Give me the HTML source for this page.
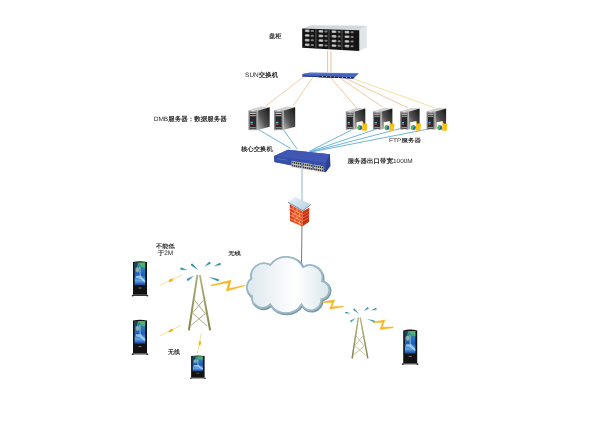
<!DOCTYPE html>
<html><head><meta charset="utf-8">
<style>
html,body{margin:0;padding:0;background:#fff;width:600px;height:424px;overflow:hidden}
svg{display:block}
text{font-family:"Liberation Sans",sans-serif;fill:#2a2a2a;text-rendering:geometricPrecision}
</style></head>
<body>
<svg width="600" height="424" viewBox="0 0 600 424">
<defs>
  <linearGradient id="sideG" x1="0" y1="1" x2="1" y2="0">
    <stop offset="0" stop-color="#bcbcbc"/>
    <stop offset="0.45" stop-color="#525252"/>
    <stop offset="1" stop-color="#141414"/>
  </linearGradient>
  <linearGradient id="frontG" x1="0" y1="0" x2="1" y2="0">
    <stop offset="0" stop-color="#808080"/>
    <stop offset="0.5" stop-color="#e0e0e0"/>
    <stop offset="1" stop-color="#909090"/>
  </linearGradient>
  <linearGradient id="cloudG" x1="0" y1="0" x2="1" y2="0">
    <stop offset="0" stop-color="#dde8ee"/>
    <stop offset="0.6" stop-color="#ffffff"/>
    <stop offset="1" stop-color="#d9e6ec"/>
  </linearGradient>
  <linearGradient id="scrG" x1="0" y1="0" x2="0" y2="1">
    <stop offset="0" stop-color="#3aa070"/>
    <stop offset="0.3" stop-color="#2a78b8"/>
    <stop offset="0.55" stop-color="#1f5cb8"/>
    <stop offset="0.8" stop-color="#5aa8e8"/>
    <stop offset="1" stop-color="#1a3c98"/>
  </linearGradient>
  <linearGradient id="brickL" x1="0" y1="0" x2="1" y2="0">
    <stop offset="0" stop-color="#d8341a"/>
    <stop offset="0.7" stop-color="#f05a22"/>
    <stop offset="1" stop-color="#e84a1c"/>
  </linearGradient>
  <linearGradient id="slabG" x1="0" y1="0" x2="1" y2="1">
    <stop offset="0" stop-color="#e8f2f8"/>
    <stop offset="1" stop-color="#b8d0e0"/>
  </linearGradient>
  <linearGradient id="legG" x1="0" y1="0" x2="1" y2="0">
    <stop offset="0" stop-color="#86864e"/>
    <stop offset="0.5" stop-color="#d0d0a4"/>
    <stop offset="1" stop-color="#86864e"/>
  </linearGradient>

  <g id="srv">
    <polygon points="0,0 9,0.5 21.2,-3 12.2,-3.8" fill="#d2d2d2"/>
    <polygon points="9,0.5 21.2,-3 21.2,16.5 9,19.8" fill="url(#sideG)"/>
    <rect x="8.6" y="0.5" width="1" height="19.3" fill="#c8c8c8"/>
    <rect x="0" y="0" width="9" height="20" rx="1" fill="url(#frontG)"/>
    <rect x="1.3" y="1.5" width="6.4" height="17.5" rx="0.8" fill="#2a2a2a"/>
    <rect x="1.6" y="2.4" width="5.8" height="1.4" fill="#c8c8c8"/>
    <rect x="1.6" y="4.8" width="5.8" height="1.2" fill="#a0a0a0"/>
    <rect x="2" y="11.6" width="2.4" height="1.6" fill="#5ab8e0"/>
    <rect x="2" y="13.8" width="2.4" height="1" fill="#a04a50"/>
    <rect x="1.6" y="17" width="5.8" height="1.1" fill="#9a9a9a"/>
  </g>

  <g id="fld">
    <path d="M3.2,0.8 L6.4,0.4 L7.4,2.9 L11.1,3.2 L10.4,9.9 L5.8,10 Z" fill="#f5bb10"/>
    <path d="M0.4,1.6 L6.3,1.0 L6.4,9.6 L0.5,9.6 Z" fill="#fbfbf4"/>
    <circle cx="3.7" cy="7.1" r="2.4" fill="#1f64c0"/>
    <path d="M1.3,7.1 A2.4,2.4 0 0 1 3.7,4.7 L4.2,6.3 L3.0,9.4 A2.4,2.4 0 0 1 1.3,7.1 Z" fill="#52b848"/>
    <path d="M6.2,5.6 L11,4.4 L10.4,9.9 L5.8,10 Z" fill="#f8c418"/>
  </g>

  <g id="kiosk">
    <path d="M0,1.2 Q7,-0.4 14,1.2 L14,34 L0,34 Z" fill="#121212"/>
    <rect x="-0.8" y="34" width="15.6" height="1.2" fill="#3a3a3a"/>
    <rect x="-1.2" y="34.4" width="1.6" height="1.2" fill="#222"/>
    <rect x="13.6" y="34.4" width="1.6" height="1.2" fill="#222"/>
    <rect x="1.6" y="1.8" width="10.6" height="22.6" fill="url(#scrG)"/>
    <path d="M1.6,1.8 L5,1.8 L4,6 L1.6,8 Z" fill="#1a3050" opacity="0.8"/>
    <path d="M6,1.8 L12.2,1.8 L12.2,7 L8,6 Z" fill="#5ab870" opacity="0.75"/>
    <ellipse cx="4.5" cy="9" rx="1.6" ry="2.6" fill="#e8e090" opacity="0.55"/>
    <path d="M6,6 L7.5,6 L8,16 L6.5,16 Z" fill="#cfe8ff" opacity="0.45"/>
    <path d="M3,15 L8,15 L12.2,20 L12.2,22 L7,18 L3,17 Z" fill="#d8eeff" opacity="0.6"/>
    <rect x="5.4" y="26.7" width="3.2" height="1" fill="#777"/>
  </g>

  <g id="tower">
    <path d="M-1.2,0 L-9.7,55.3 M1.2,0 L11.5,55.3" stroke="url(#legG)" stroke-width="2" fill="none"/>
    <path d="M-1.2,0 L-9.7,55.3 M1.2,0 L11.5,55.3" stroke="#7e7e48" stroke-width="0.9" fill="none" opacity="0.45"/>
    <g stroke="#a4a474" stroke-width="0.9" fill="none">
      <path d="M-4.3,25 L6.2,38 M5,25 L-6.2,38 M-6.2,38 L8.5,51 M7.4,38 L-8.2,51"/>
    </g>
  </g>

  <g id="sig">
    <path d="M-10.80,-4.30 L-16.50,-6.48 C-17.80,-6.72 -18.20,-4.56 -16.90,-4.32 Z" fill="#dde6e8"/>
    <path d="M0.20,-3.90 L-5.38,-10.23 C-6.37,-11.10 -7.82,-9.44 -6.82,-8.57 Z" fill="#dde6e8"/>
    <path d="M6.40,-7.60 L12.13,-10.30 C13.21,-11.06 11.94,-12.86 10.87,-12.10 Z" fill="#dde6e8"/>
    <path d="M15.60,-7.90 L22.17,-9.06 C23.41,-9.50 22.68,-11.58 21.43,-11.14 Z" fill="#dde6e8"/>
    <path d="M-3.90,1.60 L-10.70,4.68 C-11.81,5.39 -10.61,7.24 -9.50,6.52 Z" fill="#dde6e8"/>
    <path d="M10.40,2.70 L19.64,7.04 C20.89,7.47 21.61,5.39 20.36,4.96 Z" fill="#dde6e8"/>
    <path d="M-11.40,-5.30 L-17.11,-7.43 C-18.35,-7.66 -18.73,-5.60 -17.49,-5.37 Z" fill="#3494a4"/>
    <path d="M-0.40,-4.90 L-6.01,-11.19 C-6.96,-12.02 -8.34,-10.44 -7.39,-9.61 Z" fill="#3494a4"/>
    <path d="M5.80,-8.60 L11.51,-11.34 C12.53,-12.07 11.32,-13.78 10.29,-13.06 Z" fill="#3494a4"/>
    <path d="M15.00,-8.90 L21.55,-10.11 C22.74,-10.53 22.04,-12.51 20.85,-12.09 Z" fill="#3494a4"/>
    <path d="M-4.50,0.60 L-11.27,3.72 C-12.33,4.40 -11.19,6.17 -10.13,5.48 Z" fill="#3494a4"/>
    <path d="M9.80,1.70 L19.06,5.99 C20.25,6.40 20.93,4.42 19.74,4.01 Z" fill="#3494a4"/>
  </g>
</defs>

<!-- LINES -->
<g fill="none" stroke-width="0.8">
  <path d="M327.6,51 L327.6,72 M331,51 L331,72" stroke="#eeb078"/>
  <path d="M303.7,76.7 L265.7,106" stroke="#f0c090"/>
  <path d="M313,77.3 L293,106" stroke="#f0c090"/>
  <path d="M331,78 L356.5,108" stroke="#f0b888"/>
  <path d="M340,78 L382.5,107" stroke="#f0b888"/>
  <path d="M345,78 L408,108" stroke="#f0b888"/>
  <path d="M354,79 L435,108" stroke="#f0d888"/>
</g>
<g fill="none" stroke="#5eaed6" stroke-width="0.9">
  <path d="M257.5,129 L290.6,148.5"/>
  <path d="M283,129 L297,149"/>
  <path d="M309,151.5 L351,130.3"/>
  <path d="M309.5,151.7 L376.7,129"/>
  <path d="M310,152 L401.5,128.3"/>
  <path d="M311,152 L428.5,129"/>
</g>
<path d="M302,168 L302,203" stroke="#a8c8dc" stroke-width="1.3" fill="none"/>
<path d="M302,225 L301.5,263" stroke="#6a6a6a" stroke-width="0.9" fill="none"/>

<!-- STORAGE -->
<g>
  <polygon points="302.2,28.5 359,30.3 366.8,25.8 311,25.3" fill="#d0d8de"/>
  <polygon points="359,30.3 366.8,25.8 366.8,47.2 359,51" fill="#dfe6ea"/>
  <polygon points="359,30.3 359.8,29.8 359.8,50.5 359,51" fill="#9aa4aa"/>
  <polygon points="302.2,28.5 359,30.3 359,51 302.2,47.7" fill="#141414"/>
  <g transform="matrix(1,0.0317,0,1.0,302.2,28.5)">
    <rect x="2.6" y="0.90" width="4.8" height="2.6" rx="1" fill="#a0a0a0"/>
    <rect x="3.4" y="1.50" width="3.2" height="1.2" rx="0.5" fill="#d0d0d0"/>
    <rect x="8.6" y="1.20" width="3" height="2" rx="0.7" fill="#808080"/>
    <rect x="2.6" y="5.55" width="4.8" height="2.6" rx="1" fill="#a0a0a0"/>
    <rect x="3.4" y="6.15" width="3.2" height="1.2" rx="0.5" fill="#d0d0d0"/>
    <rect x="8.6" y="5.85" width="3" height="2" rx="0.7" fill="#808080"/>
    <rect x="2.6" y="10.20" width="4.8" height="2.6" rx="1" fill="#a0a0a0"/>
    <rect x="3.4" y="10.80" width="3.2" height="1.2" rx="0.5" fill="#d0d0d0"/>
    <rect x="8.6" y="10.50" width="3" height="2" rx="0.7" fill="#808080"/>
    <rect x="2.6" y="14.85" width="4.8" height="2.6" rx="1" fill="#a0a0a0"/>
    <rect x="3.4" y="15.45" width="3.2" height="1.2" rx="0.5" fill="#d0d0d0"/>
    <rect x="8.6" y="15.15" width="3" height="2" rx="0.7" fill="#808080"/>
    <rect x="16.3" y="0.90" width="4.8" height="2.6" rx="1" fill="#a0a0a0"/>
    <rect x="17.1" y="1.50" width="3.2" height="1.2" rx="0.5" fill="#d0d0d0"/>
    <rect x="22.3" y="1.20" width="3" height="2" rx="0.7" fill="#808080"/>
    <rect x="16.3" y="5.55" width="4.8" height="2.6" rx="1" fill="#a0a0a0"/>
    <rect x="17.1" y="6.15" width="3.2" height="1.2" rx="0.5" fill="#d0d0d0"/>
    <rect x="22.3" y="5.85" width="3" height="2" rx="0.7" fill="#808080"/>
    <rect x="16.3" y="10.20" width="4.8" height="2.6" rx="1" fill="#a0a0a0"/>
    <rect x="17.1" y="10.80" width="3.2" height="1.2" rx="0.5" fill="#d0d0d0"/>
    <rect x="22.3" y="10.50" width="3" height="2" rx="0.7" fill="#808080"/>
    <rect x="16.3" y="14.85" width="4.8" height="2.6" rx="1" fill="#a0a0a0"/>
    <rect x="17.1" y="15.45" width="3.2" height="1.2" rx="0.5" fill="#d0d0d0"/>
    <rect x="22.3" y="15.15" width="3" height="2" rx="0.7" fill="#808080"/>
    <rect x="13.1" y="0.3" width="1.2" height="19.4" fill="#4a4a4a"/>
    <rect x="29.4" y="0.90" width="4.8" height="2.6" rx="1" fill="#a0a0a0"/>
    <rect x="30.2" y="1.50" width="3.2" height="1.2" rx="0.5" fill="#d0d0d0"/>
    <rect x="35.4" y="1.20" width="3" height="2" rx="0.7" fill="#808080"/>
    <rect x="29.4" y="5.55" width="4.8" height="2.6" rx="1" fill="#a0a0a0"/>
    <rect x="30.2" y="6.15" width="3.2" height="1.2" rx="0.5" fill="#d0d0d0"/>
    <rect x="35.4" y="5.85" width="3" height="2" rx="0.7" fill="#808080"/>
    <rect x="29.4" y="10.20" width="4.8" height="2.6" rx="1" fill="#a0a0a0"/>
    <rect x="30.2" y="10.80" width="3.2" height="1.2" rx="0.5" fill="#d0d0d0"/>
    <rect x="35.4" y="10.50" width="3" height="2" rx="0.7" fill="#808080"/>
    <rect x="29.4" y="14.85" width="4.8" height="2.6" rx="1" fill="#a0a0a0"/>
    <rect x="30.2" y="15.45" width="3.2" height="1.2" rx="0.5" fill="#d0d0d0"/>
    <rect x="35.4" y="15.15" width="3" height="2" rx="0.7" fill="#808080"/>
    <rect x="26.2" y="0.3" width="1.2" height="19.4" fill="#4a4a4a"/>
    <rect x="42.4" y="0.90" width="4.8" height="2.6" rx="1" fill="#a0a0a0"/>
    <rect x="43.2" y="1.50" width="3.2" height="1.2" rx="0.5" fill="#d0d0d0"/>
    <rect x="48.4" y="1.20" width="3" height="2" rx="0.7" fill="#808080"/>
    <rect x="42.4" y="5.55" width="4.8" height="2.6" rx="1" fill="#a0a0a0"/>
    <rect x="43.2" y="6.15" width="3.2" height="1.2" rx="0.5" fill="#d0d0d0"/>
    <rect x="48.4" y="5.85" width="3" height="2" rx="0.7" fill="#808080"/>
    <rect x="42.4" y="10.20" width="4.8" height="2.6" rx="1" fill="#a0a0a0"/>
    <rect x="43.2" y="10.80" width="3.2" height="1.2" rx="0.5" fill="#d0d0d0"/>
    <rect x="48.4" y="10.50" width="3" height="2" rx="0.7" fill="#808080"/>
    <rect x="42.4" y="14.85" width="4.8" height="2.6" rx="1" fill="#a0a0a0"/>
    <rect x="43.2" y="15.45" width="3.2" height="1.2" rx="0.5" fill="#d0d0d0"/>
    <rect x="48.4" y="15.15" width="3" height="2" rx="0.7" fill="#808080"/>
    <rect x="39.2" y="0.3" width="1.2" height="19.4" fill="#4a4a4a"/>
  </g>
</g>

<!-- SUN SWITCH -->
<g>
  <polygon points="302.3,74 310,72.6 358.8,73.3 353.5,78.4 302.3,76.5" fill="#4462c0"/>
  <path d="M304,73.6 L358,73.4" stroke="#6a86d8" stroke-width="0.6"/>
  <polygon points="302.3,75.6 353.8,77.3 353.5,78.4 302.3,76.6" fill="#24348a"/>
  <polygon points="319,76 353.5,77.4 353.3,78.4 319,77.3" fill="#2a2a30"/>
  <g fill="#e8e8e8">
    <rect x="322" y="76.2" width="1" height="0.7"/><rect x="326" y="76.4" width="1" height="0.7"/><rect x="330" y="76.5" width="1" height="0.7"/>
    <rect x="334" y="76.6" width="1" height="0.7"/><rect x="338" y="76.8" width="1" height="0.7"/><rect x="342" y="76.9" width="1" height="0.7"/>
    <rect x="346" y="77.1" width="1" height="0.7"/><rect x="350" y="77.2" width="1" height="0.7"/>
  </g>
</g>

<!-- SERVERS -->
<use href="#srv" x="248.5" y="110.2"/>
<use href="#srv" x="274" y="110.2"/>
<g transform="translate(345.8,111.3) scale(0.92)"><use href="#srv"/></g>
<g transform="translate(372.9,111.3) scale(0.92)"><use href="#srv"/></g>
<g transform="translate(400.1,111.3) scale(0.92)"><use href="#srv"/></g>
<g transform="translate(426.6,111.3) scale(0.92)"><use href="#srv"/></g>
<use href="#fld" x="356.2" y="120.6"/>
<use href="#fld" x="383.3" y="120.6"/>
<use href="#fld" x="409.8" y="120.6"/>
<use href="#fld" x="436.2" y="120.6"/>

<!-- CORE SWITCH -->
<g>
  <polygon points="287.9,149.7 329.9,154.3 330.3,166 325.7,172.2 274.4,162.1 274.1,155.9" fill="#3550aa"/>
  <polygon points="287.9,149.7 329.9,154.3 326,163 274.1,155.9" fill="#4058b4"/>
  <polygon points="274.1,155.9 326,163 325.7,172.2 274.4,162.1" fill="#3550aa"/>
  <polygon points="326,163 329.9,154.3 330.3,166 325.7,172.2" fill="#2a3f90"/>
  <g transform="matrix(1,0.17,0,1.12,274.2,156)">
    <rect x="17.4" y="1.6" width="9.8" height="5.6" fill="#cfcfc8"/>
    <rect x="17.9" y="2.2" width="1.3" height="1.6" fill="#333"/>
    <rect x="17.9" y="4.9" width="1.3" height="1.6" fill="#333"/>
    <rect x="19.8" y="2.2" width="1.3" height="1.6" fill="#333"/>
    <rect x="19.8" y="4.9" width="1.3" height="1.6" fill="#333"/>
    <rect x="21.7" y="2.2" width="1.3" height="1.6" fill="#333"/>
    <rect x="21.7" y="4.9" width="1.3" height="1.6" fill="#333"/>
    <rect x="23.6" y="2.2" width="1.3" height="1.6" fill="#333"/>
    <rect x="23.6" y="4.9" width="1.3" height="1.6" fill="#333"/>
    <rect x="25.5" y="2.2" width="1.3" height="1.6" fill="#333"/>
    <rect x="25.5" y="4.9" width="1.3" height="1.6" fill="#333"/>
    <rect x="28.3" y="1.6" width="9.8" height="5.6" fill="#cfcfc8"/>
    <rect x="28.8" y="2.2" width="1.3" height="1.6" fill="#333"/>
    <rect x="28.8" y="4.9" width="1.3" height="1.6" fill="#333"/>
    <rect x="30.7" y="2.2" width="1.3" height="1.6" fill="#333"/>
    <rect x="30.7" y="4.9" width="1.3" height="1.6" fill="#333"/>
    <rect x="32.6" y="2.2" width="1.3" height="1.6" fill="#333"/>
    <rect x="32.6" y="4.9" width="1.3" height="1.6" fill="#333"/>
    <rect x="34.5" y="2.2" width="1.3" height="1.6" fill="#333"/>
    <rect x="34.5" y="4.9" width="1.3" height="1.6" fill="#333"/>
    <rect x="36.4" y="2.2" width="1.3" height="1.6" fill="#333"/>
    <rect x="36.4" y="4.9" width="1.3" height="1.6" fill="#333"/>
    <rect x="39.5" y="1.6" width="9.8" height="5.6" fill="#cfcfc8"/>
    <rect x="40.0" y="2.2" width="1.3" height="1.6" fill="#333"/>
    <rect x="40.0" y="4.9" width="1.3" height="1.6" fill="#333"/>
    <rect x="41.9" y="2.2" width="1.3" height="1.6" fill="#333"/>
    <rect x="41.9" y="4.9" width="1.3" height="1.6" fill="#333"/>
    <rect x="43.8" y="2.2" width="1.3" height="1.6" fill="#333"/>
    <rect x="43.8" y="4.9" width="1.3" height="1.6" fill="#333"/>
    <rect x="45.7" y="2.2" width="1.3" height="1.6" fill="#333"/>
    <rect x="45.7" y="4.9" width="1.3" height="1.6" fill="#333"/>
    <rect x="47.6" y="2.2" width="1.3" height="1.6" fill="#333"/>
    <rect x="47.6" y="4.9" width="1.3" height="1.6" fill="#333"/>
  </g>
  <rect x="277" y="158" width="10" height="1" fill="#6a80c8" opacity="0.6" transform="rotate(8 277 158)"/>
</g>

<!-- FIREWALL -->
<g>
  <polygon points="289.7,204.3 302.7,211.5 302.3,226.6 290.1,220.9" fill="url(#brickL)"/>
  <polygon points="302.7,211.5 309.3,207.8 309,221.8 302.3,226.6" fill="#c8300e"/>
  <g stroke="#ffc090" stroke-width="0.7" fill="none" opacity="0.95">
    <path d="M290,208 L302.5,214.6 M290,211.5 L302.5,218 M290,215 L302.5,221.3 M290,218.5 L302.5,224.6"/>
    <path d="M293,205.8 L293,209.6 M297,208 L297,211.9 M295,211.3 L295,215.3 M299.5,213.6 L299.5,217.5 M293,213 L293,217 M297,215.3 L297,219.3 M295,218.7 L295,222.2 M299.5,220.8 L299.5,224.5"/>
    <path d="M302.7,214.7 L309.2,211 M302.6,218 L309.1,214.3 M302.5,221.3 L309.1,217.6" stroke="#f08060"/>
  </g>
  <polygon points="287.9,201.7 295.3,196.9 310.6,204.3 302.7,210" fill="url(#slabG)"/>
  <polygon points="287.9,201.7 302.7,210 310.6,204.3 310.6,205.2 302.7,211.3 287.9,202.8" fill="#6f8da4"/>
</g>

<!-- CLOUD -->
<g>
  <path d="M270.3,265 A19.1,19.1 0 0 1 303,267.2 A12.6,12.6 0 0 1 322,281 A9.3,9.3 0 0 1 321.3,299.3 A10.4,10.4 0 0 1 301.5,304.4 A18.4,18.4 0 0 1 270.3,304.4 A10.6,10.6 0 0 1 252,296.3 A10.5,10.5 0 0 1 251.3,278.8 A12.9,12.9 0 0 1 270.3,265 Z" fill="none" stroke="#7a98a8" stroke-width="2.6" transform="translate(0.8,0.9)"/>
  <path d="M270.3,265 A19.1,19.1 0 0 1 303,267.2 A12.6,12.6 0 0 1 322,281 A9.3,9.3 0 0 1 321.3,299.3 A10.4,10.4 0 0 1 301.5,304.4 A18.4,18.4 0 0 1 270.3,304.4 A10.6,10.6 0 0 1 252,296.3 A10.5,10.5 0 0 1 251.3,278.8 A12.9,12.9 0 0 1 270.3,265 Z" fill="url(#cloudG)" stroke="#9ab8c6" stroke-width="1.8"/>
</g>

<!-- TOWERS -->
<use href="#tower" x="198.6" y="275"/>
<use href="#sig" x="198.6" y="275"/>
<g transform="translate(359.3,317.5) scale(0.74,0.74)"><use href="#tower"/></g>
<g transform="translate(359.3,317.5) scale(0.78)"><use href="#sig"/></g>

<!-- LIGHTNING -->
<polygon points="210.91,285.06 231.23,280.04 229.03,288.43 245.20,284.96 245.40,285.84 226.17,291.16 228.37,282.77 211.09,285.94" fill="#f5b824" stroke="#f5b824" stroke-width="0.3" stroke-linejoin="round"/>
<polygon points="322.66,301.85 334.82,299.86 332.12,306.82 343.15,306.05 343.25,306.95 329.48,309.34 332.18,302.38 322.74,302.75" fill="#f5b824" stroke="#f5b824" stroke-width="0.3" stroke-linejoin="round"/>
<polygon points="373.05,321.95 385.12,319.86 382.32,327.22 393.16,326.85 393.24,327.75 379.68,329.74 382.48,322.38 373.15,322.85" fill="#f5b824" stroke="#f5b824" stroke-width="0.3" stroke-linejoin="round"/>
<g fill="none" stroke="#eee08a" stroke-width="0.9" stroke-linecap="round">
  <path d="M160.5,285 L181.5,275"/>
  <path d="M160.5,335.5 L180.5,325.5"/>
  <path d="M197.5,353.5 L201.4,333"/>
</g>
<g fill="#f6b428">
  <ellipse cx="171" cy="280.3" rx="2.6" ry="1.3" transform="rotate(-25 171 280.3)"/>
  <ellipse cx="170.8" cy="330.6" rx="2.6" ry="1.3" transform="rotate(-27 170.8 330.6)"/>
  <ellipse cx="199.8" cy="343.2" rx="1.2" ry="2.4" transform="rotate(10 199.8 343.2)"/>
</g>

<!-- KIOSKS -->
<use href="#kiosk" x="133" y="260.8"/>
<use href="#kiosk" x="133" y="319.3"/>
<g transform="translate(191.1,355.2) scale(0.965,0.66)"><use href="#kiosk"/></g>
<use href="#kiosk" x="403.2" y="329.2"/>

<!-- TEXT -->
<g opacity="0.995"><text x="0" y="0" font-size="7" font-weight="bold" transform="matrix(0.9054,0,0,0.8635,268.929,37.942)">盘柜</text>
<text x="0" y="0" font-size="7" font-weight="bold" transform="matrix(0.9217,0,0,0.9141,245.107,76.529)"><tspan font-weight="normal">SUN</tspan>交换机</text>
<text x="0" y="0" font-size="7" font-weight="bold" transform="matrix(0.9314,0,0,0.9008,153.713,120.874)"><tspan font-weight="normal">DMB</tspan>服务器：数据服务器</text>
<text x="0" y="0" font-size="7" font-weight="bold" transform="matrix(0.9022,0,0,0.8760,241.119,150.875)">核心交换机</text>
<text x="0" y="0" font-size="7" font-weight="bold" transform="matrix(0.9352,0,0,0.7573,389.014,142.053)"><tspan font-weight="normal">FTP</tspan>服务器</text>
<text x="0" y="0" font-size="7" font-weight="bold" transform="matrix(0.9247,0,0,0.8904,347.641,163.091)">服务器出口带宽<tspan font-weight="normal">1000M</tspan></text>
<text x="0" y="0" font-size="7" font-weight="bold" transform="matrix(0.8901,0,0,0.8152,155.914,247.691)">不能低</text>
<text x="0" y="0" font-size="7" font-weight="bold" transform="matrix(0.9259,0,0,0.9231,157.775,255.277)">于<tspan font-weight="normal">2M</tspan></text>
<text x="0" y="0" font-size="7" font-weight="bold" transform="matrix(0.8934,0,0,0.7460,228.265,254.885)">无线</text>
<text x="0" y="0" font-size="7" font-weight="bold" transform="matrix(0.8427,0,0,0.8571,168.000,354.143)">无线</text></g>
</svg>
</body></html>
